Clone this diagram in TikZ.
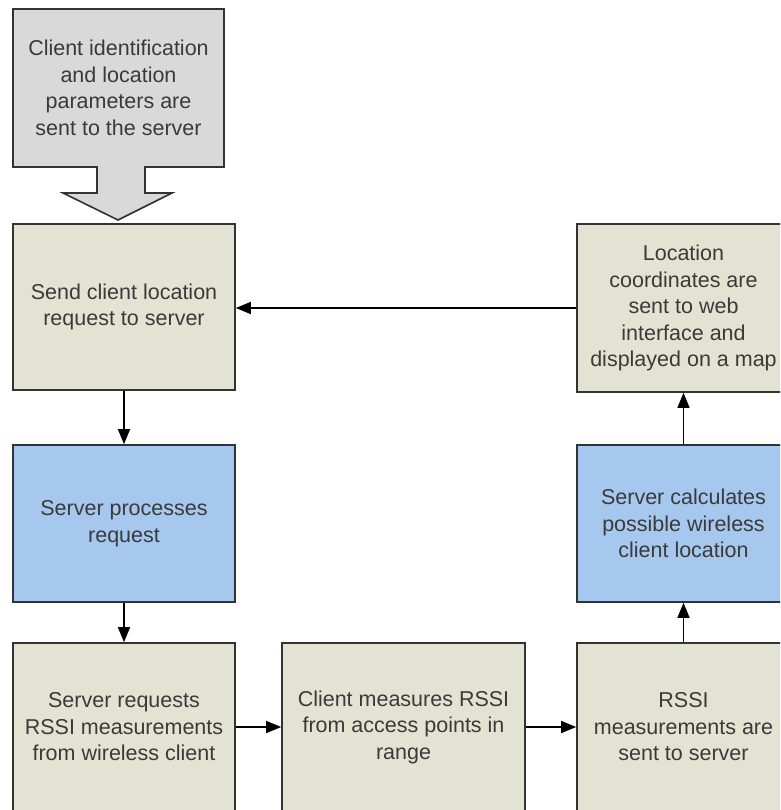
\documentclass[tikz,border=0pt]{standalone}
\usepackage{fontspec}
\setmainfont{Liberation Sans}
\usetikzlibrary{arrows.meta}
\definecolor{beige}{HTML}{E3E3D4}
\definecolor{skyblue}{HTML}{A6C8EE}
\definecolor{callgray}{HTML}{D9D9D9}
\definecolor{edge}{HTML}{333333}
\definecolor{txt}{HTML}{3A3A3A}
\begin{document}
\begin{tikzpicture}[x=1pt,y=-1pt,
  box/.style={draw=edge,line width=1.6pt,fill=beige,minimum width=222pt,inner sep=0pt,
    align=center,text=txt,font=\fontsize{21.5}{26.5}\selectfont},
  bluebox/.style={box,fill=skyblue},
  flow/.style={draw=black,line width=1.4pt,-{Triangle[length=15pt,width=12pt]}}]
\useasboundingbox (0,0) rectangle (780,810);
\clip (0,0) rectangle (780,810);
% callout
\draw[edge,line width=1.6pt,fill=callgray] (13,9) -- (224,9) -- (224,167) -- (145,167) -- (145,193) -- (172,193) -- (118,220) -- (63,193) -- (97,193) -- (97,167) -- (13,167) -- cycle;
\node[align=center,text=txt,font=\fontsize{21.5}{26.5}\selectfont] (intro) at (118.5,88) {Client identification\\and location\\parameters are\\sent to the server};
% boxes
\node[box,minimum height=166pt] (send) at (124,307) {Send client location\\request to server};
\node[bluebox,minimum height=157pt] (proc) at (124,523.5) {Server processes\\request};
\node[box,minimum height=168pt] (req) at (124,727) {Server requests\\RSSI measurements\\from wireless client};
\node[box,minimum height=168pt,minimum width=243pt] (meas) at (403.5,727) {Client measures RSSI\\from access points in\\range};
\node[box,minimum height=168pt,minimum width=213pt] (sent) at (683.5,727) {RSSI\\measurements are\\sent to server};
\node[bluebox,minimum height=157pt,minimum width=213pt] (calc) at (683.5,523.5) {Server calculates\\possible wireless\\client location};
\node[box,minimum height=168pt,minimum width=213pt] (disp) at (683.5,308) {Location\\coordinates are\\sent to web\\interface and\\displayed on a map};
% connectors
\draw[flow] (send) -- (proc);
\draw[flow] (proc) -- (req);
\draw[flow] (req) -- (meas);
\draw[flow] (meas) -- (sent);
\draw[flow] (sent) -- (calc);
\draw[flow] (calc) -- (disp);
\draw[flow] (disp.west) -- (send.east |- disp.west);
\end{tikzpicture}
\end{document}
